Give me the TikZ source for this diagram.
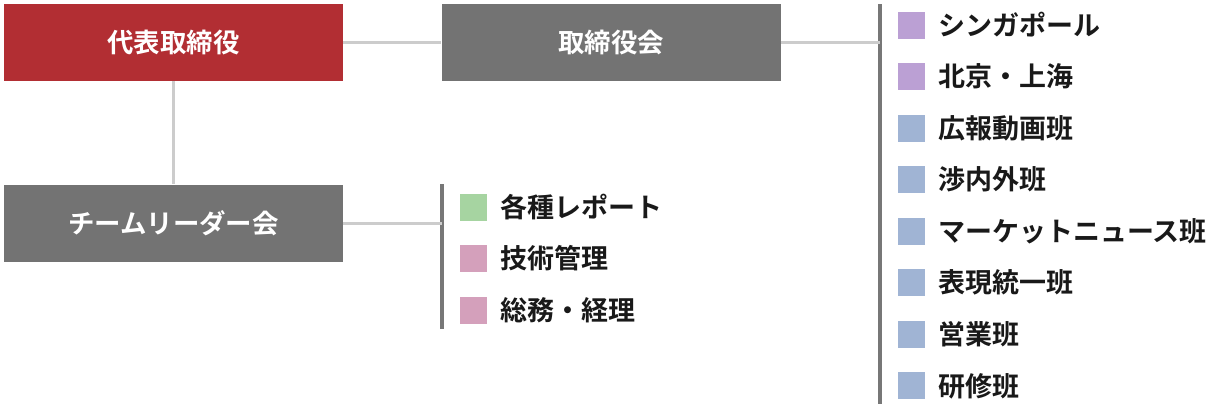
\documentclass[tikz,border=0pt]{standalone}
\usepackage{fontspec}
\setmainfont{Noto Sans CJK JP}[BoldFont={Noto Sans CJK JP Bold}]
\usepackage{tikz}
\usetikzlibrary{positioning}
\usepackage{xcolor}
\definecolor{ceoRed}{HTML}{B22E33}
\definecolor{boardGray}{HTML}{737373}
\definecolor{lineGray}{HTML}{CCCCCC}
\definecolor{barGray}{HTML}{777777}
\definecolor{sqGreen}{HTML}{A6D4A1}
\definecolor{sqPink}{HTML}{D4A0BB}
\definecolor{sqPurple}{HTML}{BBA0D4}
\definecolor{sqBlue}{HTML}{A0B4D4}

\begin{document}
\begin{tikzpicture}[
  box/.style={minimum width=8.475cm, minimum height=1.925cm, inner sep=0pt, text=white, font=\fontsize{18.8}{20}\selectfont\bfseries},
  sq/.style={minimum size=0.675cm, inner sep=0pt},
  item/.style={right=0.325cm of #1, inner sep=0pt, anchor=west, text=black!90, font=\fontsize{19.2}{20}\selectfont\bfseries},
  conn/.style={lineGray, line width=2.2pt},
  bar/.style={barGray, line width=3pt},
  node distance=0.6cm
]
\useasboundingbox (0,0) rectangle (30.25,-10.15);

% Boxes
\node[box, fill=ceoRed] (ceo) at (4.3375,-1.0625) {代表取締役};
\node[box, fill=boardGray, right=2.45cm of ceo] (board) {取締役会};
\node[box, fill=boardGray, below=2.575cm of ceo] (leaders) {チームリーダー会};

% Bars
\coordinate (b1top) at (11.05,-4.6);
\coordinate (b1bot) at (11.05,-8.225);
\coordinate (b2top) at (22.0,-0.1);
\coordinate (b2bot) at (22.0,-10.1);
\draw[bar] (b1top) -- (b1bot);
\draw[bar] (b2top) -- (b2bot);

% Connectors
\draw[conn] (ceo) -- (board);
\draw[conn] (ceo) -- (leaders);
\draw[conn] (leaders.east) -- (leaders.east -| b1top);
\draw[conn] (board.east) -- (board.east -| b2top);

% Team leader items
\node[sq, fill=sqGreen] (l1) at (11.8375,-5.175) {};
\node[sq, fill=sqPink, below=of l1] (l2) {};
\node[sq, fill=sqPink, below=of l2] (l3) {};
\node[item=l1] (l1t) {各種レポート};
\node[item=l2] (l2t) {技術管理};
\node[item=l3] (l3t) {総務・経理};

% Board items
\node[sq, fill=sqPurple] (r1) at (22.775,-0.625) {};
\node[sq, fill=sqPurple, below=of r1] (r2) {};
\node[sq, fill=sqBlue, below=of r2] (r3) {};
\node[sq, fill=sqBlue, below=of r3] (r4) {};
\node[sq, fill=sqBlue, below=of r4] (r5) {};
\node[sq, fill=sqBlue, below=of r5] (r6) {};
\node[sq, fill=sqBlue, below=of r6] (r7) {};
\node[sq, fill=sqBlue, below=of r7] (r8) {};
\node[item=r1] (r1t) {シンガポール};
\node[item=r2] (r2t) {北京・上海};
\node[item=r3] (r3t) {広報動画班};
\node[item=r4] (r4t) {渉内外班};
\node[item=r5] (r5t) {マーケットニュース班};
\node[item=r6] (r6t) {表現統一班};
\node[item=r7] (r7t) {営業班};
\node[item=r8] (r8t) {研修班};
\end{tikzpicture}
\end{document}
